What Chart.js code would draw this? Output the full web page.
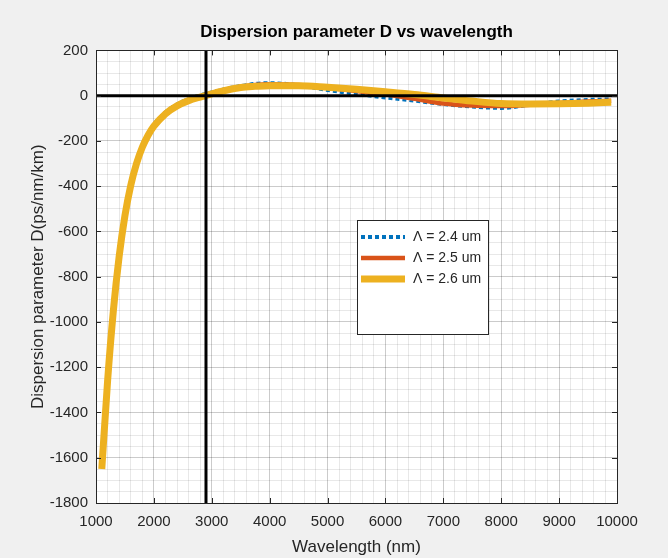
<!DOCTYPE html>
<html>
<head>
<meta charset="utf-8">
<title>Dispersion parameter D</title>
<script src="https://cdn.jsdelivr.net/npm/chart.js@4.4.1/dist/chart.umd.min.js"></script>
<style>
  html, body { margin: 0; padding: 0; background: #f0f0f0; }
  #disp-chart { display: block; }
</style>
</head>
<body>
<canvas id="disp-chart" width="668" height="558"></canvas>
<script>
// wavelength samples (nm)
const wavelength = [1100, 1200, 1300, 1400, 1500, 1600, 1700, 1800, 1900, 2000,
  2200, 2400, 2600, 2800, 3000, 3250, 3500, 3750, 4000, 4500,
  5000, 5500, 6000, 6500, 7000, 7500, 8000, 8500, 9000, 9500, 9900];

// D (ps/nm/km) for each pitch
const dispersion24 = [-1640, -1250, -940, -700, -522, -390, -293, -222, -169, -129,
  -74, -39, -15, 1, 14, 30, 42, 52, 55, 46,
  25, 8, -8, -22, -37, -48, -54, -40, -26, -19, -17];
const dispersion25 = [-1645, -1256, -945, -705, -526, -394, -297, -225, -172, -132,
  -77, -42, -19, -3, 11, 27, 39, 47, 50, 47,
  35, 21, 5, -14, -35, -44, -46, -40, -32, -26, -23];
const dispersion26 = [-1650, -1262, -950, -710, -530, -397, -300, -228, -175, -135,
  -80, -45, -22, -6, 8, 24, 36, 41, 44, 44,
  37, 28, 17, 5, -10, -24, -35, -37, -36, -33, -29];

const seriesLabels = ['\u039B = 2.4 um', '\u039B = 2.5 um', '\u039B = 2.6 um'];

// axis ranges
const xMin = 1000, xMax = 10000, xStep = 1000, xMinorStep = 200;
const yMin = -1800, yMax = 200, yStep = 200, yMinorStep = 50;
const zeroCrossing = 2900;

const FONT = '"Liberation Sans", Arial, sans-serif';
const INK = '#262626';

function toPoints(ys) {
  return wavelength.map((x, i) => ({ x: x, y: ys[i] }));
}

// figure background, white axes, box + inward ticks, legend
const matlabAxes = {
  id: 'matlabAxes',
  beforeDraw(chart) {
    const { ctx, chartArea: a } = chart;
    ctx.save();
    ctx.fillStyle = '#f0f0f0';
    ctx.fillRect(0, 0, chart.width, chart.height);
    ctx.fillStyle = '#ffffff';
    ctx.fillRect(a.left, a.top, a.right - a.left, a.bottom - a.top);
    ctx.restore();
  },
  afterDatasetsDraw(chart) {
    const { ctx, chartArea: a, scales } = chart;
    ctx.save();
    ctx.strokeStyle = INK;
    ctx.lineWidth = 1;
    ctx.beginPath();
    scales.x.ticks.forEach(t => {
      const px = Math.round(scales.x.getPixelForValue(t.value)) + 0.5;
      ctx.moveTo(px, a.bottom); ctx.lineTo(px, a.bottom - 5);
      ctx.moveTo(px, a.top); ctx.lineTo(px, a.top + 5);
    });
    scales.y.ticks.forEach(t => {
      const py = Math.round(scales.y.getPixelForValue(t.value)) + 0.5;
      ctx.moveTo(a.left, py); ctx.lineTo(a.left + 5, py);
      ctx.moveTo(a.right, py); ctx.lineTo(a.right - 5, py);
    });
    ctx.stroke();
    ctx.strokeRect(Math.round(a.left) + 0.5, Math.round(a.top) + 0.5,
      Math.round(a.right - a.left), Math.round(a.bottom - a.top));
    ctx.restore();
  },
  afterDraw(chart) {
    const ctx = chart.ctx;
    const box = { left: 357, top: 220, right: 488, bottom: 334 };
    ctx.save();
    ctx.fillStyle = '#ffffff';
    ctx.fillRect(box.left, box.top, box.right - box.left, box.bottom - box.top);
    ctx.strokeStyle = INK;
    ctx.lineWidth = 1;
    ctx.strokeRect(box.left + 0.5, box.top + 0.5, box.right - box.left, box.bottom - box.top);
    ctx.font = '14px ' + FONT;
    ctx.textBaseline = 'middle';
    ctx.textAlign = 'left';
    chart.data.datasets.slice(0, 3).forEach((ds, i) => {
      const y = box.top + 17 + i * 21;
      ctx.beginPath();
      ctx.strokeStyle = ds.borderColor;
      ctx.lineWidth = ds.borderWidth;
      ctx.lineCap = 'butt';
      ctx.setLineDash(ds.borderDash || []);
      ctx.moveTo(box.left + 4, y);
      ctx.lineTo(box.left + 48, y);
      ctx.stroke();
      ctx.setLineDash([]);
      ctx.fillStyle = INK;
      ctx.fillText(ds.label, box.left + 56, y);
    });
    ctx.restore();
  }
};

const curveBase = {
  pointRadius: 0,
  fill: false,
  cubicInterpolationMode: 'monotone',
  borderCapStyle: 'butt',
  borderJoinStyle: 'round'
};

const datasets = [
  Object.assign({}, curveBase, {
    label: seriesLabels[0], data: toPoints(dispersion24),
    borderColor: '#0072BD', borderWidth: 4, borderDash: [4, 3], order: 3
  }),
  Object.assign({}, curveBase, {
    label: seriesLabels[1], data: toPoints(dispersion25),
    borderColor: '#D95319', borderWidth: 4.5, order: 2
  }),
  Object.assign({}, curveBase, {
    label: seriesLabels[2], data: toPoints(dispersion26),
    borderColor: '#EDB120', borderWidth: 7, order: 1
  }),
  {
    label: 'zero', data: [{ x: xMin, y: 0 }, { x: xMax, y: 0 }],
    borderColor: '#000000', borderWidth: 3, pointRadius: 0, order: 0
  },
  {
    label: 'crossing', data: [{ x: zeroCrossing, y: yMin }, { x: zeroCrossing, y: yMax }],
    borderColor: '#000000', borderWidth: 3, pointRadius: 0, order: 0
  }
];

const majorGrid = { color: 'rgba(0,0,0,0.12)', lineWidth: 1, drawTicks: false };
const minorGrid = { color: 'rgba(0,0,0,0.09)', lineWidth: 1, borderDash: [1, 3], drawTicks: false };
const tickFont = { family: FONT, size: 15 };
const titleFont = { family: FONT, size: 17 };

new Chart(document.getElementById('disp-chart'), {
  type: 'line',
  data: { datasets: datasets },
  options: {
    responsive: false,
    animation: false,
    events: [],
    layout: { padding: { left: 0, right: 51, top: 0, bottom: 0 } },
    plugins: {
      legend: { display: false },
      tooltip: { enabled: false },
      title: {
        display: true,
        text: 'Dispersion parameter D vs wavelength',
        fullSize: false,
        color: '#000000',
        font: { family: FONT, size: 17, weight: 'bold' },
        padding: { top: 22, bottom: 8 }
      }
    },
    scales: {
      xMinor: {
        type: 'linear', position: 'bottom', min: xMin, max: xMax,
        ticks: { display: false, stepSize: xMinorStep },
        grid: minorGrid, border: { display: false },
        afterFit(scale) { scale.height = 0; }
      },
      yMinor: {
        type: 'linear', position: 'left', min: yMin, max: yMax,
        ticks: { display: false, stepSize: yMinorStep },
        grid: minorGrid, border: { display: false },
        afterFit(scale) { scale.width = 0; }
      },
      x: {
        type: 'linear', position: 'bottom', min: xMin, max: xMax,
        ticks: {
          stepSize: xStep, color: INK, font: tickFont, padding: 10, maxRotation: 0,
          callback: v => String(v)
        },
        grid: majorGrid,
        border: { display: false },
        title: {
          display: true, text: 'Wavelength (nm)', color: INK, font: titleFont,
          padding: { top: 0, bottom: 0 }
        },
        afterFit(scale) { scale.height = 55; }
      },
      y: {
        type: 'linear', position: 'left', min: yMin, max: yMax,
        ticks: {
          stepSize: yStep, color: INK, font: tickFont, padding: 8,
          callback: v => String(v)
        },
        grid: majorGrid,
        border: { display: false },
        title: {
          display: true, text: 'Dispersion parameter D(ps/nm/km)', color: INK, font: titleFont,
          padding: { top: 28, bottom: 0 }
        },
        afterFit(scale) { scale.width = 96; }
      }
    }
  },
  plugins: [matlabAxes]
});
</script>
</body>
</html>
